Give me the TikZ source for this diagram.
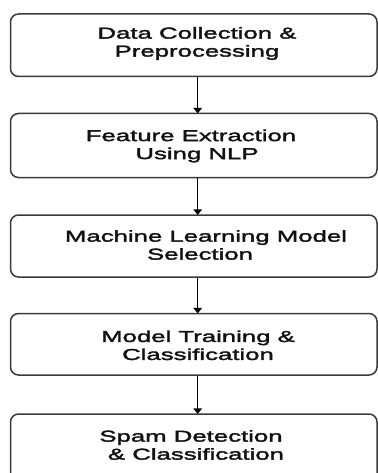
\documentclass[tikz,border=0pt]{standalone}
\usepackage{fontspec}
\usetikzlibrary{arrows.meta,calc}
\newfontfamily\boxfont[FakeStretch=1.63,FakeBold=2.2]{Liberation Sans}
\definecolor{edge}{HTML}{3A3A3A}
\definecolor{ink}{HTML}{111111}
\tikzset{
  stagebox/.style={draw=edge, line width=1.5pt, rounded corners=8pt,
    rectangle, inner sep=0pt, minimum width=366.5pt},
  stagetext/.style={text=ink, align=center, inner sep=0pt,
    font=\boxfont\fontsize{15.8pt}{18pt}\selectfont},
  flow/.style={draw=black, line width=1.5pt,
    -{Triangle[width=8.5pt,length=5.5pt]}, shorten >=-0.7pt}
}
\begin{document}
\begin{tikzpicture}[x=1pt,y=-1pt]
  \useasboundingbox (0,0) rectangle (377,473);
  % stage frames
  \node[stagebox, minimum height=62.5pt] (b1) at (193.75,45.25) {};
  \node[stagebox, minimum height=64pt]   (b2) at (193.75,145.5) {};
  \node[stagebox, minimum height=62pt]   (b3) at (193.75,246) {};
  \node[stagebox, minimum height=61.5pt] (b4) at (193.75,344.25) {};
  \node[stagebox, minimum height=70pt]   (b5) at (193.75,449) {};
  % vertical line carrying the flow arrows
  \coordinate (axis) at (197.7,0);
  % stage labels
  \node[stagetext] (t1) at (197,43.5)  {Data Collection \&\\Preprocessing};
  \node[stagetext] (t2) at (191,146)   {Feature Extraction\\\hspace*{12pt}Using NLP};
  \node[stagetext] (t3) at (206,245)   {Machine Learning Model\\\hspace*{-12pt}Selection};
  \node[stagetext] (t4) at (198,345.3) {Model Training \&\\Classification};
  \node[stagetext] (t5) at (191,445)   {Spam Detection\\\hspace*{10pt}\& Classification};
  % flow arrows
  \draw[flow] (b1.south -| axis) -- (b2.north -| axis);
  \draw[flow] (b2.south -| axis) -- (b3.north -| axis);
  \draw[flow] (b3.south -| axis) -- (b4.north -| axis);
  \draw[flow] (b4.south -| axis) -- (b5.north -| axis);
\end{tikzpicture}
\end{document}
